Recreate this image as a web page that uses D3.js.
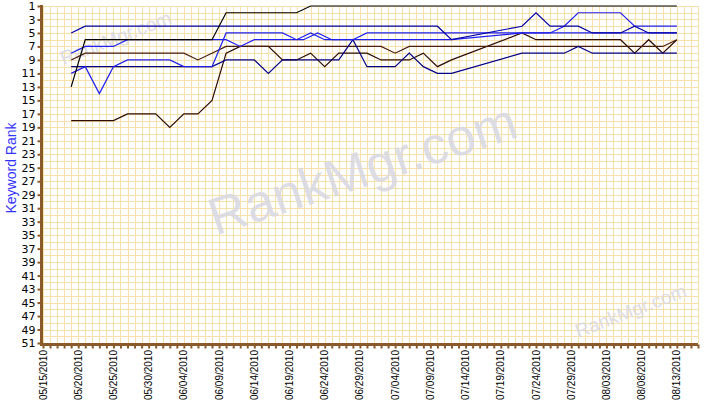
<!DOCTYPE html>
<html>
<head>
<meta charset="utf-8">
<script src="https://cdn.jsdelivr.net/npm/d3@7"></script>
<style>
  body { margin: 0; background: #fff; }
  svg { display: block; }
  .ylab text { font-family: "DejaVu Sans", Verdana, sans-serif; font-size: 11px; fill: #000; }
  .xlab text { font-family: "Liberation Sans", Arial, sans-serif; font-size: 10px; fill: #000; }
</style>
</head>
<body>
<div id="chart"></div>
<script>
// rank readings per keyword, [date, rank] at each vertex of the line
var blackRanks = [["05/19/2010",13],["05/21/2010",6],["06/08/2010",6],["06/10/2010",2],["06/20/2010",2],["06/22/2010",1],["08/13/2010",1]];
var navyRanks = [["05/19/2010",5],["05/21/2010",4],["07/10/2010",4],["07/12/2010",6],["07/22/2010",4],["07/24/2010",2],["07/26/2010",4],["07/30/2010",4],["08/01/2010",5],["08/05/2010",5],["08/07/2010",4],["08/09/2010",5],["08/13/2010",5]];
var blueRanks = [["05/19/2010",8],["05/21/2010",7],["05/25/2010",7],["05/27/2010",6],["06/10/2010",6],["06/12/2010",7],["06/14/2010",6],["06/21/2010",6],["06/23/2010",5],["06/25/2010",6],["07/12/2010",6],["07/22/2010",5],["07/26/2010",5],["07/28/2010",4],["07/30/2010",2],["08/05/2010",2],["08/07/2010",4],["08/13/2010",4]];
var brownRanks = [["05/19/2010",9],["05/21/2010",8],["06/04/2010",8],["06/06/2010",9],["06/10/2010",7],["07/02/2010",7],["07/04/2010",8],["07/06/2010",7],["08/11/2010",7],["08/13/2010",6]];
var navy2Ranks = [["05/19/2010",10],["06/08/2010",10],["06/10/2010",9],["06/14/2010",9],["06/16/2010",11],["06/18/2010",9],["06/26/2010",9],["06/28/2010",6],["06/30/2010",10],["07/04/2010",10],["07/06/2010",8],["07/08/2010",10],["07/10/2010",11],["07/12/2010",11],["07/22/2010",8],["07/28/2010",8],["07/30/2010",7],["08/01/2010",8],["08/13/2010",8]];
var blue2Ranks = [["05/19/2010",11],["05/21/2010",10],["05/23/2010",14],["05/25/2010",10],["05/27/2010",9],["06/02/2010",9],["06/04/2010",10],["06/08/2010",10],["06/10/2010",5],["06/18/2010",5],["06/20/2010",6],["06/22/2010",5],["06/24/2010",6],["06/28/2010",6],["06/30/2010",5],["08/13/2010",5]];
var darkRanks = [["05/19/2010",18],["05/25/2010",18],["05/27/2010",17],["05/31/2010",17],["06/02/2010",19],["06/04/2010",17],["06/06/2010",17],["06/08/2010",15],["06/10/2010",8],["06/12/2010",7],["06/16/2010",7],["06/18/2010",9],["06/20/2010",9],["06/22/2010",8],["06/24/2010",10],["06/26/2010",8],["06/30/2010",8],["07/02/2010",9],["07/06/2010",9],["07/08/2010",8],["07/10/2010",10],["07/12/2010",9],["07/22/2010",5],["07/24/2010",6],["08/05/2010",6],["08/07/2010",8],["08/09/2010",6],["08/11/2010",8],["08/13/2010",6]];

var rankTicks = d3.range(1, 52, 2);
var dateLabels = ["05/15/2010","05/20/2010","05/25/2010","05/30/2010","06/04/2010","06/09/2010","06/14/2010","06/19/2010","06/24/2010","06/29/2010","07/04/2010","07/09/2010","07/14/2010","07/19/2010","07/24/2010","07/29/2010","08/03/2010","08/08/2010","08/13/2010"];

var series = [
  {name: "dark", data: darkRanks, color: "#2e0a00"},
  {name: "brown", data: brownRanks, color: "#4a1c08"},
  {name: "navy2", data: navy2Ranks, color: "#000088"},
  {name: "blue2", data: blue2Ranks, color: "#1f1fee"},
  {name: "blue", data: blueRanks, color: "#2020f0"},
  {name: "navy", data: navyRanks, color: "#0000aa"},
  {name: "black", data: blackRanks, color: "#000000"}
];

var width = 707,
    height = 402,
    plotLeft = 43,
    plotRight = 698,
    plotTop = 6,
    plotBottom = 343,
    axisColor = "#8b5a2b",
    gridColor = "#f7e0aa";

var parse = d3.timeParse("%m/%d/%Y");

var xScale = d3.scaleTime()
  .domain([parse("05/15/2010"), parse("08/16/2010")])
  .range([plotLeft, plotRight]);

var yScale = d3.scaleLinear()
  .domain([1, 51])
  .range([plotTop, plotBottom]);

var svg = d3.select("#chart").append("svg")
  .attr("width", width)
  .attr("height", height);

var days = d3.timeDay.range(parse("05/15/2010"), d3.timeDay.offset(parse("08/16/2010"), 1));

// grid
svg.append("g")
  .selectAll("line")
  .data(days)
  .enter()
  .append("line")
  .attr("x1", function (d) {return Math.round(xScale(d)) + 0.5})
  .attr("x2", function (d) {return Math.round(xScale(d)) + 0.5})
  .attr("y1", plotTop)
  .attr("y2", plotBottom)
  .attr("stroke", gridColor)
  .attr("stroke-width", 1);

svg.append("g")
  .selectAll("line")
  .data(d3.range(1, 52))
  .enter()
  .append("line")
  .attr("x1", plotLeft)
  .attr("x2", plotRight)
  .attr("y1", function (d) {return Math.round(yScale(d)) + 0.5})
  .attr("y2", function (d) {return Math.round(yScale(d)) + 0.5})
  .attr("stroke", gridColor)
  .attr("stroke-width", 1);

// watermarks
var marks = [
  {x: 368, y: 186, size: 52, angle: -18},
  {x: 118, y: 44, size: 19, angle: -21},
  {x: 633, y: 317, size: 19, angle: -21}
];
svg.append("g")
  .selectAll("text")
  .data(marks)
  .enter()
  .append("text")
  .text("RankMgr.com")
  .attr("text-anchor", "middle")
  .attr("transform", function (d) {return "translate(" + d.x + "," + d.y + ") rotate(" + d.angle + ")"})
  .style("font-family", "Liberation Sans, Arial, sans-serif")
  .style("font-size", function (d) {return d.size + "px"})
  .style("fill", "#d8d8e4")
  .style("opacity", 0.85);

// lines
var line = d3.line()
  .x(function (d) {return xScale(parse(d[0]))})
  .y(function (d) {return yScale(d[1])});

svg.append("g")
  .selectAll("path")
  .data(series)
  .enter()
  .append("path")
  .attr("d", function (s) {return line(s.data)})
  .attr("fill", "none")
  .attr("stroke", function (s) {return s.color})
  .attr("stroke-width", 1.2);

// axes
var yAxis = d3.axisLeft(yScale)
  .tickValues(rankTicks)
  .tickSize(4)
  .tickPadding(2);

var yg = svg.append("g")
  .attr("class", "ylab")
  .attr("transform", "translate(" + (plotLeft - 1.5) + ",0)")
  .call(yAxis);
yg.select(".domain").remove();
yg.selectAll(".tick line").attr("stroke", axisColor).attr("stroke-width", 2);

var xAxis = d3.axisBottom(xScale)
  .tickValues(days)
  .tickSize(4)
  .tickFormat("");

var xg = svg.append("g")
  .attr("transform", "translate(0," + (plotBottom + 1.5) + ")")
  .call(xAxis);
xg.select(".domain").remove();
xg.selectAll(".tick line").attr("stroke", axisColor).attr("stroke-width", 2);

svg.append("line")
  .attr("x1", plotLeft - 1.5).attr("x2", plotLeft - 1.5)
  .attr("y1", plotTop - 1).attr("y2", plotBottom + 3)
  .attr("stroke", axisColor).attr("stroke-width", 3);
svg.append("line")
  .attr("x1", plotLeft - 3).attr("x2", plotRight)
  .attr("y1", plotBottom + 1.5).attr("y2", plotBottom + 1.5)
  .attr("stroke", axisColor).attr("stroke-width", 3);

svg.append("g")
  .attr("class", "xlab")
  .selectAll("text")
  .data(dateLabels)
  .enter()
  .append("text")
  .text(function (d) {return d})
  .attr("text-anchor", "end")
  .attr("transform", function (d) {return "translate(" + (xScale(parse(d)) + 3.5) + "," + (plotBottom + 7) + ") rotate(-90)"});

svg.append("text")
  .text("Keyword Rank")
  .attr("text-anchor", "middle")
  .attr("transform", "translate(16,168) rotate(-90)")
  .style("font-family", "Liberation Sans, Arial, sans-serif")
  .style("font-size", "14px")
  .style("fill", "#3333ff");
</script>
</body>
</html>
